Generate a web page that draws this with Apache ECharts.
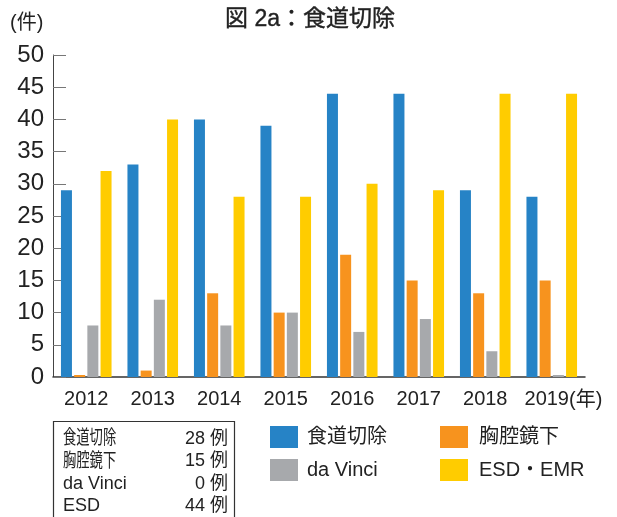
<!DOCTYPE html>
<html>
<head>
<meta charset="utf-8">
<script src="https://cdn.jsdelivr.net/npm/echarts@6/dist/echarts.min.js"></script>
<style>
  html, body { margin: 0; padding: 0; background: #fff; }
  #chart-container { width: 617px; height: 517px; }
</style>
</head>
<body>
<div id="chart-container"></div>
<script>
const years = ["2012", "2013", "2014", "2015", "2016", "2017", "2018", "2019"];
const seriesNames = ["食道切除", "胸腔鏡下", "da Vinci", "ESD・EMR"];
const esophagectomy = [29, 33, 40, 39, 44, 44, 29, 28];
const thoracoscopic = [0, 1, 13, 10, 19, 15, 13, 15];
const daVinci = [8, 12, 8, 10, 7, 9, 4, 0];
const esdEmr = [32, 40, 28, 28, 30, 29, 44, 44];
const tableLabels = ["食道切除", "胸腔鏡下", "da Vinci", "ESD"];

const colors = ["#2683C6", "#F7931E", "#A7A9AC", "#FFCC00"];
const font = "'Liberation Sans', 'Noto Sans CJK JP', sans-serif";
const valuesList = [esophagectomy, thoracoscopic, daVinci, esdEmr];

const series = seriesNames.map((name, i) => ({
  name: name,
  type: "bar",
  data: valuesList[i],
  barWidth: 11,
  barGap: "20%",
  barMinHeight: 2,
  itemStyle: { color: colors[i] },
}));

// summary box: last year's counts
const lastIdx = years.length - 1;
const tableRows = tableLabels.map((label, i) => {
  const y = 439 + i * 22.4;
  const isCjk = /[^\x00-\x7F]/.test(label);
  return [
    {
      type: "text",
      x: 63,
      y: y,
      scaleX: isCjk ? 0.7 : 1,
      style: {
        text: label,
        font: (isCjk ? "19px " : "18px ") + font,
        fill: "#222",
        verticalAlign: "middle",
        align: "left",
      },
    },
    {
      type: "text",
      x: 228,
      y: y,
      style: {
        text: valuesList[i][lastIdx] + " 例",
        font: "18px " + font,
        fill: "#222",
        verticalAlign: "middle",
        align: "right",
      },
    },
  ];
}).flat();

const option = {
  animation: false,
  textStyle: { fontFamily: font },
  grid: { left: 53, right: 32, top: 55, bottom: 140, containLabel: false },
  xAxis: {
    type: "category",
    data: years.map((y, i) =>
      i === lastIdx ? { value: y, textStyle: { padding: [0, 10, 0, 0] } } : y
    ),
    axisLine: { lineStyle: { color: "#333", width: 1.5 } },
    axisTick: { inside: true, length: 8, lineStyle: { color: "#333" } },
    axisLabel: { fontSize: 20, color: "#222", margin: 12 },
  },
  yAxis: {
    type: "value",
    min: 0,
    max: 50,
    interval: 5,
    splitLine: { show: false },
    axisLine: { show: true, lineStyle: { color: "#444" } },
    axisTick: { show: true, inside: true, length: 13, lineStyle: { color: "#777" } },
    axisLabel: { fontSize: 24, color: "#222", margin: 9 },
  },
  legend: [
    {
      left: 265,
      top: 421,
      orient: "vertical",
      itemWidth: 28,
      itemHeight: 22,
      itemGap: 11,
      icon: "rect",
      data: [seriesNames[0], seriesNames[2]],
      textStyle: { fontSize: 20, color: "#222", padding: [0, 0, 0, 4] },
    },
    {
      left: 435,
      top: 421,
      orient: "vertical",
      itemWidth: 28,
      itemHeight: 22,
      itemGap: 11,
      icon: "rect",
      data: [seriesNames[1], seriesNames[3]],
      textStyle: { fontSize: 20, color: "#222", padding: [0, 0, 0, 6] },
    },
  ],
  graphic: [
    {
      type: "text",
      x: 310,
      y: 20,
      style: {
        text: "図 2a：食道切除",
        font: "23px " + font,
        fill: "#222",
        stroke: "#222",
        lineWidth: 0.4,
        align: "center",
        verticalAlign: "middle",
      },
    },
    {
      type: "text",
      x: 10,
      y: 23,
      style: {
        text: "(件)",
        font: "20px " + font,
        fill: "#222",
        align: "left",
        verticalAlign: "middle",
      },
    },
    {
      type: "text",
      x: 569,
      y: 400,
      style: {
        text: "(年)",
        font: "20px " + font,
        fill: "#222",
        align: "left",
        verticalAlign: "middle",
      },
    },
    {
      type: "rect",
      shape: { x: 53.5, y: 421.5, width: 181, height: 120 },
      style: { fill: "none", stroke: "#333", lineWidth: 1.2 },
    },
    ...tableRows,
  ],
  series: series,
};

const dom = document.getElementById("chart-container");
const myChart = echarts.init(dom, null, { renderer: "canvas" });
myChart.setOption(option);
window.addEventListener("resize", () => myChart.resize());
</script>
</body>
</html>
